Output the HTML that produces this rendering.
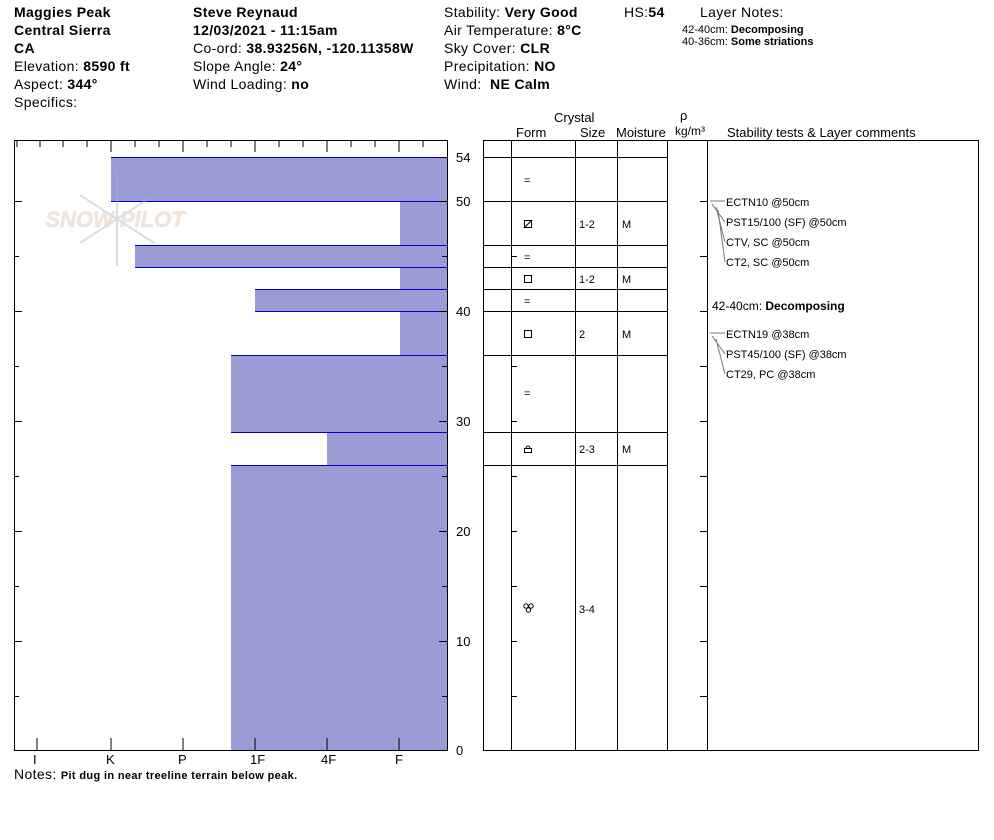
<!DOCTYPE html>
<html><head><style>
body{margin:0;background:#fff;width:994px;height:840px;overflow:hidden;font-family:"Liberation Sans",sans-serif;}
.t{position:absolute;font-size:14px;color:#000;white-space:nowrap;line-height:18px;letter-spacing:0.35px}
.s{position:absolute;font-size:11px;white-space:nowrap}
</style></head><body>
<div class="t" style="left:14px;top:3px"><b>Maggies Peak</b><br><b>Central Sierra</b><br><b>CA</b><br>Elevation: <b>8590 ft</b><br>Aspect: <b>344°</b><br>Specifics:</div>
<div class="t" style="left:193px;top:3px"><b>Steve Reynaud</b><br><b>12/03/2021 - 11:15am</b><br>Co-ord: <b>38.93256N, -120.11358W</b><br>Slope Angle: <b>24°</b><br>Wind Loading: <b>no</b></div>
<div class="t" style="left:444px;top:3px">Stability: <b>Very Good</b><br>Air Temperature: <b>8°C</b><br>Sky Cover: <b>CLR</b><br>Precipitation: <b>NO</b><br>Wind: &nbsp;<b>NE Calm</b></div>
<div class="t" style="left:624px;top:3px">HS:<b>54</b></div>
<div class="t" style="left:700px;top:3px">Layer Notes:</div>
<div class="s" style="left:682px;top:24px">42-40cm: <b>Decomposing</b><br>40-36cm: <b>Some striations</b></div>
<svg width="994" height="840" style="position:absolute;left:0;top:0" font-family="Liberation Sans,sans-serif">
<g fill="#9b9bd6">
<rect x="111" y="157" width="336" height="44"/>
<rect x="400" y="201" width="47" height="44"/>
<rect x="135" y="245" width="312" height="22"/>
<rect x="400" y="267" width="47" height="22"/>
<rect x="255" y="289" width="192" height="22"/>
<rect x="400" y="311" width="47" height="44"/>
<rect x="231" y="355" width="216" height="77"/>
<rect x="327" y="432" width="120" height="33"/>
<rect x="231" y="465" width="216" height="285"/>
</g>
<g stroke="#0000cc"><path d="M111 157.5h336M111 201.5h336M135 245.5h312M135 267.5h312M255 289.5h192M255 311.5h192M231 355.5h216M231 432.5h216M231 465.5h216"/></g>
<g opacity="0.45">
<text x="115" y="227" font-size="22" font-weight="bold" fill="#f0c0a0" stroke="#c0c8d8" stroke-width="0.7" text-anchor="middle" font-style="italic">SNOW PILOT</text>
<g stroke="#a8b4c8" stroke-width="2"><line x1="117" y1="172" x2="117" y2="266"/><line x1="80" y1="195" x2="154" y2="243"/><line x1="154" y1="195" x2="80" y2="243"/></g>
</g>
<rect x="14.5" y="140.5" width="433" height="610" fill="none" stroke="#000"/>
<g stroke="#000">
<path d="M17 140v7M40 140v7M63 140v7M87 140v7M111 140v12M135 140v7M159 140v7M183 140v12M207 140v7M231 140v7M255 140v12M279 140v7M303 140v7M327 140v12M351 140v7M375 140v7M399 140v12M423 140v7"/>
<path d="M37 750v-12M111 750v-12M183 750v-12M255 750v-12M327 750v-12M399 750v-12"/>
<path d="M14 201.5h8M14 311.5h8M14 421.5h8M14 531.5h8M14 641.5h8M14 256.5h5M14 366.5h5M14 476.5h5M14 586.5h5M14 696.5h5"/>
<path d="M447 157.5h-8M447 201.5h-8M447 311.5h-8M447 421.5h-8M447 531.5h-8M447 641.5h-8M447 256.5h-5M447 366.5h-5M447 476.5h-5M447 586.5h-5M447 696.5h-5"/>
</g>
<g font-size="13"><text x="456" y="162">54</text><text x="456" y="206">50</text><text x="456" y="316">40</text><text x="456" y="426">30</text><text x="456" y="536">20</text><text x="456" y="646">10</text><text x="456" y="755">0</text>
<text x="33" y="764">I</text><text x="106" y="764">K</text><text x="178" y="764">P</text><text x="250" y="764">1F</text><text x="321" y="764">4F</text><text x="395" y="764">F</text></g>
<rect x="483.5" y="140.5" width="495" height="610" fill="none" stroke="#000"/>
<g stroke="#000"><path d="M511.5 140v610M575.5 140v610M617.5 140v610M667.5 140v610M707.5 140v610"/>
<path d="M483 157.5h184M483 201.5h184M483 245.5h184M483 267.5h184M483 289.5h184M483 311.5h184M483 355.5h184M483 432.5h184M483 465.5h184"/>
<path d="M511 256.5h6M511 366.5h6M511 421.5h6M511 476.5h6M511 531.5h6M511 586.5h6M511 641.5h6M511 696.5h6M700 201.5h7M700 256.5h7M700 311.5h7M700 366.5h7M700 421.5h7M700 476.5h7M700 531.5h7M700 586.5h7M700 641.5h7M700 696.5h7"/>
</g>
<g font-size="13"><text x="554" y="122">Crystal</text><text x="516" y="137">Form</text><text x="580" y="137">Size</text><text x="616" y="137">Moisture</text><text x="680" y="120">ρ</text><text x="675" y="135" font-size="12">kg/m³</text><text x="727" y="137">Stability tests &amp; Layer comments</text></g>
<g font-size="11"><text x="524" y="184">=</text><text x="524" y="261">=</text><text x="524" y="305">=</text><text x="524" y="397">=</text>
<text x="579" y="228">1-2</text><text x="622" y="228">M</text><text x="579" y="283">1-2</text><text x="622" y="283">M</text><text x="579" y="338">2</text><text x="622" y="338">M</text><text x="579" y="453">2-3</text><text x="622" y="453">M</text><text x="579" y="613">3-4</text>
<text x="726" y="206">ECTN10 @50cm</text><text x="726" y="226">PST15/100 (SF) @50cm</text><text x="726" y="246">CTV, SC @50cm</text><text x="726" y="266">CT2, SC @50cm</text>
<text x="726" y="338">ECTN19 @38cm</text><text x="726" y="358">PST45/100 (SF) @38cm</text><text x="726" y="378">CT29, PC @38cm</text></g>
<text x="712" y="310" font-size="12">42-40cm: <tspan font-weight="bold">Decomposing</tspan></text>
<g fill="none" stroke="#000" stroke-width="1"><rect x="524.5" y="220.5" width="7" height="7"/><line x1="524" y1="228" x2="532" y2="220"/><rect x="524.5" y="275.5" width="7" height="7"/><rect x="524.5" y="330.5" width="7" height="7"/><path d="M524.5 452.5h7v-4h-7zM526 448.5a2 2.5 0 0 1 4 0"/><circle cx="526" cy="606" r="2.2"/><circle cx="531" cy="606" r="2.2"/><circle cx="528.5" cy="610" r="2.2"/></g>
<g stroke="#777" fill="none"><path d="M710 201h15M712 204l13 18M716 207l9 35M718 210l7 52M710 333h15M712 336l13 18M716 339l9 35"/></g>
</svg>
<div class="t" style="left:14px;top:765px">Notes: <b style="font-size:11px">Pit dug in near treeline terrain below peak.</b></div>
</body></html>
